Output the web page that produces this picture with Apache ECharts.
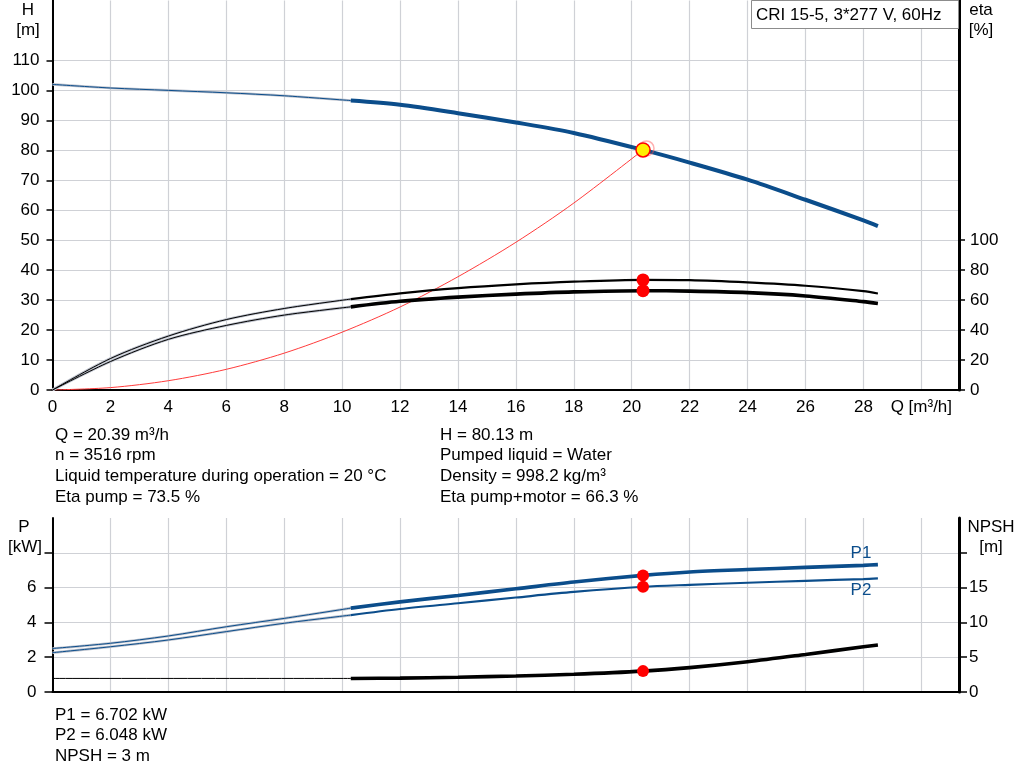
<!DOCTYPE html>
<html><head><meta charset="utf-8">
<script src="https://cdn.jsdelivr.net/npm/echarts@6/dist/echarts.min.js"></script>
<style>html,body{margin:0;padding:0;background:#fff}#c{width:1024px;height:781px}</style>
</head><body><div id="c"></div>
<script>
// ---------- data ----------
const qCurve       = [0, 2, 4, 6, 8, 10.3, 12, 14, 16, 18, 20.39, 22, 24, 26, 28, 28.5];
const headH        = [102, 100.8, 100, 99.2, 98.2, 96.6, 95.2, 92.4, 89.3, 85.8, 80.13, 75.9, 70.2, 63.5, 56.6, 54.7];
const etaPump      = [0, 21, 36, 47, 54.4, 60.7, 64.5, 68, 70.5, 72.3, 73.5, 73.3, 71.8, 69.6, 66, 64.4];
const etaPumpMotor = [0, 19, 33.8, 43.1, 50, 55.5, 59.2, 62, 64, 65.5, 66.3, 66, 65, 62.8, 59, 57.8];
const powerP1      = [2.5, 2.8, 3.22, 3.75, 4.23, 4.82, 5.18, 5.55, 5.93, 6.32, 6.702, 6.9, 7.04, 7.16, 7.28, 7.32];
const powerP2      = [2.26, 2.6, 2.99, 3.47, 3.95, 4.42, 4.77, 5.1, 5.43, 5.75, 6.048, 6.16, 6.28, 6.39, 6.49, 6.53];
const qSystem      = [0, 2, 4, 6, 8, 10, 12, 14, 16, 18, 20.39];
const headSystem   = [0, 0.8, 3.1, 6.9, 12.3, 19.3, 27.7, 37.8, 49.3, 62.4, 80.13];
const qNpsh        = [0, 10.3, 12, 14, 16, 18, 20.39, 22, 24, 26, 28, 28.5];
const npshValues   = [1.95, 1.95, 2.0, 2.12, 2.3, 2.55, 3.0, 3.5, 4.35, 5.4, 6.5, 6.75];
const qSplit = 10.3;
const duty = {q: 20.39, h: 80.13, etaPump: 73.5, etaTotal: 66.3, p1: 6.702, p2: 6.048, npsh: 3};

const xLabelValues     = [0, 2, 4, 6, 8, 10, 12, 14, 16, 18, 20, 22, 24, 26, 28, 30];
const hTickValues      = [0, 10, 20, 30, 40, 50, 60, 70, 80, 90, 100, 110];
const etaTickValues    = [0, 20, 40, 60, 80, 100];
const pTickValues      = [0, 2, 4, 6, 8];
const pLabelValues     = [0, 2, 4, 6];
const npshTickValues   = [0, 5, 10, 15, 20];
const npshLabelValues  = [0, 5, 10, 15];

const titleText = 'CRI 15-5, 3*277 V, 60Hz';
const infoLeft   = ['Q = 20.39 m³/h', 'n = 3516 rpm', 'Liquid temperature during operation = 20 °C', 'Eta pump = 73.5 %'];
const infoRight  = ['H = 80.13 m', 'Pumped liquid = Water', 'Density = 998.2 kg/m³', 'Eta pump+motor = 66.3 %'];
const infoBottom = ['P1 = 6.702 kW', 'P2 = 6.048 kW', 'NPSH = 3 m'];

// ---------- helpers ----------
const FONT = '"Liberation Sans", Arial, sans-serif';
const BLUE = '#0b4d8b';
function pts(xs, ys, lo, hi) {
  const out = [];
  xs.forEach((x, i) => { if (x >= lo && x <= hi) out.push([x, ys[i]]); });
  return out;
}
function line(data, xi, yi, color, width, z) {
  return {type: 'line', xAxisIndex: xi, yAxisIndex: yi, data: data, smooth: 0.3,
    showSymbol: false, symbol: 'none', silent: true, z: z || 3,
    lineStyle: {color: color, width: width, cap: 'butt'}};
}
function thin(data, xi, yi, color) {
  return [line(data, xi, yi, '#bcc1cc', 2.6, 2), line(data, xi, yi, color, 1, 3)];
}
function dot(data, xi, yi, size, fill, border) {
  return {type: 'scatter', xAxisIndex: xi, yAxisIndex: yi, data: data, symbolSize: size, z: 10,
    silent: true, itemStyle: {color: fill, borderColor: border || fill, borderWidth: border ? 1.5 : 0, opacity: 1}};
}
const labelStyle = {color: '#000', fontSize: 17, fontFamily: FONT};
function xAxis(gi, showLabels) {
  return {type: 'value', gridIndex: gi, min: 0, max: 31.3, interval: 2,
    axisLine: {show: true, lineStyle: {color: '#000', width: 2}},
    axisTick: {show: false},
    axisLabel: Object.assign({show: showLabels, margin: 9, customValues: xLabelValues,
      formatter: v => v === 30 ? 'Q [m³/h]' : String(v)}, labelStyle),
    splitLine: {show: true, lineStyle: {color: '#cfd1d6', width: 1.2}}};
}
function yAxis(gi, pos, max, interval, ticks, labels, tickLen, margin, lineW, split) {
  return {type: 'value', gridIndex: gi, position: pos, min: 0, max: max, interval: interval,
    axisLine: {show: true, lineStyle: {color: '#000', width: lineW}},
    axisTick: {show: true, customValues: ticks, length: tickLen, lineStyle: {color: '#000', width: 1.5}},
    axisLabel: Object.assign({show: true, margin: margin, customValues: labels}, labelStyle),
    splitLine: {show: split, lineStyle: {color: '#cfd1d6', width: 1.2}}};
}
function txt(x, y, s, opts) {
  return {type: 'text', x: x, y: y, z: 100,
    style: Object.assign({text: s, fill: '#000', font: '17px ' + FONT, textVerticalAlign: 'middle'}, (opts || {}))};
}

// ---------- series ----------
const series = [];
// top chart
series.push(line(pts(qSystem, headSystem, 0, 30), 0, 0, '#ff3b3b', 1, 1));
series.push(...thin(pts(qCurve, headH, 0, qSplit), 0, 0, BLUE));
series.push(line(pts(qCurve, headH, qSplit, 30), 0, 0, BLUE, 4, 4));
series.push(...thin(pts(qCurve, etaPump, 0, qSplit), 0, 1, '#000'));
series.push(line(pts(qCurve, etaPump, qSplit, 30), 0, 1, '#000', 2.2, 4));
series.push(...thin(pts(qCurve, etaPumpMotor, 0, qSplit), 0, 1, '#000'));
series.push(line(pts(qCurve, etaPumpMotor, qSplit, 30), 0, 1, '#000', 3.6, 4));
series.push(dot([[duty.q, duty.etaPump], [duty.q, duty.etaTotal]], 0, 1, 13, '#ff0000'));
series.push(dot([[duty.q + 0.12, duty.h + 0.5]], 0, 0, 15, 'rgba(255,255,255,0)', 'rgba(255,80,80,0.45)'));
series.push(dot([[duty.q, duty.h]], 0, 0, 14, '#ffee00', '#ff0000'));
// bottom chart
series.push(...thin(pts(qCurve, powerP1, 0, qSplit), 1, 2, BLUE));
series.push(line(pts(qCurve, powerP1, qSplit, 30), 1, 2, BLUE, 3.6, 4));
series.push(...thin(pts(qCurve, powerP2, 0, qSplit), 1, 2, BLUE));
series.push(line(pts(qCurve, powerP2, qSplit, 30), 1, 2, BLUE, 2.2, 4));
series.push(line(pts(qNpsh, npshValues, 0, qSplit), 1, 3, '#000', 1, 3));
series.push(line(pts(qNpsh, npshValues, qSplit, 30), 1, 3, '#000', 3.6, 4));
series.push(dot([[duty.q, duty.p1], [duty.q, duty.p2]], 1, 2, 12, '#ff0000'));
series.push(dot([[duty.q, duty.npsh]], 1, 3, 12, '#ff0000'));

// ---------- texts ----------
const graphics = [];
graphics.push({type: 'rect', z: 99, shape: {x: 751.5, y: 0.5, width: 207, height: 28},
  style: {fill: '#fff', stroke: '#8c8c8c', lineWidth: 1}});
graphics.push(txt(756, 15, titleText));
graphics.push(txt(28, 10, 'H', {textAlign: 'center'}));
graphics.push(txt(28, 30, '[m]', {textAlign: 'center'}));
graphics.push(txt(981, 10, 'eta', {textAlign: 'center'}));
graphics.push(txt(981, 30, '[%]', {textAlign: 'center'}));
graphics.push(txt(24, 527, 'P', {textAlign: 'center'}));
graphics.push(txt(25, 547, '[kW]', {textAlign: 'center'}));
graphics.push(txt(991, 527, 'NPSH', {textAlign: 'center'}));
graphics.push(txt(991, 547, '[m]', {textAlign: 'center'}));
graphics.push(txt(861, 553, 'P1', {textAlign: 'center', fill: BLUE}));
graphics.push(txt(861, 590, 'P2', {textAlign: 'center', fill: BLUE}));
const lineYs = [435, 455.5, 476, 497];
infoLeft.forEach((s, i) => graphics.push(txt(55, lineYs[i], s)));
infoRight.forEach((s, i) => graphics.push(txt(440, lineYs[i], s)));
const bottomYs = [715, 735.5, 756];
infoBottom.forEach((s, i) => graphics.push(txt(55, bottomYs[i], s)));

const chart = echarts.init(document.getElementById('c'), null, {renderer: 'canvas'});
chart.setOption({
  animation: false,
  backgroundColor: '#fff',
  grid: [
    {left: 52.5, right: 65, top: 0.5, height: 389.5},
    {left: 52.5, right: 65, top: 518, height: 174}
  ],
  xAxis: [xAxis(0, true), xAxis(1, false)],
  yAxis: [
    yAxis(0, 'left', 130, 10, hTickValues, hTickValues, 6, 13, 2, true),
    yAxis(0, 'right', 260, 20, etaTickValues, etaTickValues, 6, 11, 3, false),
    yAxis(1, 'left', 10, 2, pTickValues, pLabelValues, 8, 16, 2, true),
    yAxis(1, 'right', 25, 5, npshTickValues, npshLabelValues, 8, 10, 3, false)
  ],
  series: series,
  graphic: graphics
});
</script>
</body></html>
